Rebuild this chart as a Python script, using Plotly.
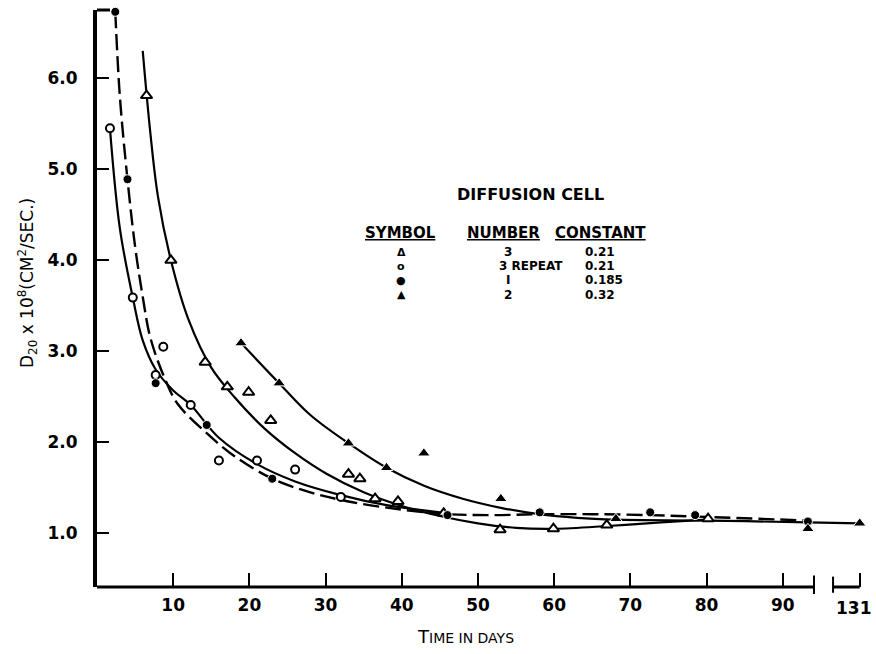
import plotly.graph_objects as go

# ---------------- data ----------------
# Cell 3 (open triangles)
c3_days = [6.5, 9.7, 14.2, 17.1, 19.9, 22.8, 33.0, 34.5, 36.5, 39.5, 45.5, 52.9, 59.9, 66.9, 80.2]
c3_vals = [5.81, 4.00, 2.88, 2.61, 2.55, 2.24, 1.65, 1.60, 1.38, 1.35, 1.22, 1.04, 1.05, 1.09, 1.16]
# Cell 3 repeat (open circles)
c3r_days = [1.7, 4.7, 7.7, 8.7, 12.3, 16.0, 21.0, 26.0, 32.0]
c3r_vals = [5.45, 3.59, 2.74, 3.05, 2.41, 1.80, 1.80, 1.70, 1.40]
# Cell 1 (filled circles)
c1_days = [2.4, 4.0, 7.7, 14.4, 23.0, 46.0, 58.1, 72.6, 78.5, 93.3]
c1_vals = [6.73, 4.89, 2.65, 2.19, 1.60, 1.20, 1.23, 1.23, 1.20, 1.13]
# Cell 2 (filled triangles)
c2_days = [18.9, 23.9, 33.0, 38.0, 42.9, 53.0, 68.1, 93.3, 131]
c2_vals = [3.09, 2.65, 1.99, 1.72, 1.88, 1.38, 1.16, 1.05, 1.11]

# hand-drawn smoothing curves (nodes)
k3_days = [6.0, 7.0, 8.0, 9.7, 12, 15, 18, 22, 26, 30, 35, 40, 45, 50, 55, 60, 67, 74, 80]
k3_vals = [6.30, 5.40, 4.70, 4.00, 3.35, 2.82, 2.50, 2.15, 1.88, 1.66, 1.45, 1.30, 1.19, 1.11, 1.06, 1.05, 1.08, 1.12, 1.15]
k3r_days = [1.7, 3.0, 4.7, 6.0, 7.7, 10, 12.3, 16, 21, 26, 32, 38, 45]
k3r_vals = [5.45, 4.35, 3.59, 3.12, 2.80, 2.57, 2.41, 2.05, 1.76, 1.57, 1.42, 1.31, 1.23]
k1_days = [2.4, 3.0, 4.0, 5.0, 6.0, 7.0, 8.9, 10.6, 14.4, 18, 23, 28, 33, 40, 46, 52, 58, 65, 72.6, 80, 93.3]
k1_vals = [6.73, 5.80, 4.89, 4.15, 3.60, 3.15, 2.70, 2.42, 2.10, 1.85, 1.60, 1.45, 1.35, 1.26, 1.21, 1.20, 1.21, 1.21, 1.20, 1.18, 1.14]
k2_days = [18.9, 23.9, 28, 33, 38, 43, 48, 53, 58, 63, 68.1, 80, 93.3, 131]
k2_vals = [3.09, 2.65, 2.30, 1.99, 1.72, 1.52, 1.38, 1.28, 1.21, 1.17, 1.15, 1.14, 1.12, 1.11]

x_ticks = [10, 20, 30, 40, 50, 60, 70, 80, 90, 131]
y_ticks = [1.0, 2.0, 3.0, 4.0, 5.0, 6.0]

legend_rows = [("\u0394", "3", "0.21"), ("o", "3 REPEAT", "0.21"),
               ("\u25CF", "I", "0.185"), ("\u25B2", "2", "0.32")]

# ---------------- axis break: 131 days is drawn just after the break ----------------
BREAK_END = 94.1      # last plotted day before the break
POS_131 = 100.1       # axis position of the 131-day tick


def xp(d):
    return [v if v <= 95 else POS_131 for v in d]


fig = go.Figure()
BLACK = "black"

# curves
fig.add_trace(go.Scatter(x=xp(k3_days), y=k3_vals, mode="lines", line=dict(color=BLACK, width=2.2, shape="spline"), hoverinfo="skip"))
fig.add_trace(go.Scatter(x=xp(k3r_days), y=k3r_vals, mode="lines", line=dict(color=BLACK, width=2.2, shape="spline"), hoverinfo="skip"))
fig.add_trace(go.Scatter(x=xp(k1_days), y=k1_vals, mode="lines", line=dict(color=BLACK, width=2.4, shape="spline", dash="16px,6px"), hoverinfo="skip"))
fig.add_trace(go.Scatter(x=xp(k2_days), y=k2_vals, mode="lines", line=dict(color=BLACK, width=2.2, shape="spline"), hoverinfo="skip"))

# markers
fig.add_trace(go.Scatter(x=xp(c3_days), y=c3_vals, mode="markers", cliponaxis=False,
                         marker=dict(symbol="triangle-up", size=10, color="white", line=dict(color=BLACK, width=2))))
fig.add_trace(go.Scatter(x=xp(c3r_days), y=c3r_vals, mode="markers", cliponaxis=False,
                         marker=dict(symbol="circle", size=8, color="white", line=dict(color=BLACK, width=2))))
fig.add_trace(go.Scatter(x=xp(c1_days), y=c1_vals, mode="markers", cliponaxis=False,
                         marker=dict(symbol="circle", size=9, color=BLACK, line=dict(color="white", width=1))))
fig.add_trace(go.Scatter(x=xp(c2_days), y=c2_vals, mode="markers", cliponaxis=False,
                         marker=dict(symbol="triangle-up", size=11, color=BLACK, line=dict(color="white", width=1))))

FONT = "DejaVu Sans"
TICKFONT = dict(family=FONT, size=17, color=BLACK, weight="bold")

fig.update_layout(
    width=876, height=654,
    margin=dict(l=97, r=14, t=10, b=67),
    paper_bgcolor="white", plot_bgcolor="white",
    showlegend=False,
    font=dict(family=FONT, color=BLACK),
    xaxis=dict(range=[0, 100.4], showgrid=False, zeroline=False, showline=False,
               tickmode="array", tickvals=xp(x_ticks),
               ticktext=[str(t) if t <= 95 else "" for t in x_ticks],
               ticks="inside", ticklen=14, tickwidth=2, tickcolor=BLACK,
               tickfont=TICKFONT, ticklabelstandoff=6),
    yaxis=dict(range=[0.41, 6.75], showgrid=False, zeroline=False, showline=True,
               linecolor=BLACK, linewidth=4,
               tickmode="array", tickvals=y_ticks, ticktext=["%.1f" % t for t in y_ticks],
               ticks="inside", ticklen=12, tickwidth=2, tickcolor=BLACK,
               tickfont=TICKFONT, ticklabelstandoff=12),
)

shapes = []
# broken x axis line
shapes.append(dict(type="line", xref="x", yref="paper", x0=0, x1=BREAK_END, y0=0, y1=0, line=dict(color=BLACK, width=3)))
shapes.append(dict(type="line", xref="x", yref="paper", x0=BREAK_END, x1=BREAK_END, y0=-0.012, y1=0.02, line=dict(color=BLACK, width=2)))
shapes.append(dict(type="line", xref="x", yref="paper", x0=96.6, x1=96.6, y0=-0.01, y1=0.018, line=dict(color=BLACK, width=2)))
shapes.append(dict(type="line", xref="x", yref="paper", x0=96.6, x1=POS_131, y0=0, y1=0, line=dict(color=BLACK, width=3)))
# top corner of the y axis
shapes.append(dict(type="line", xref="paper", yref="paper", x0=0, x1=0.017, y0=1, y1=1, line=dict(color=BLACK, width=3)))
fig.update_layout(shapes=shapes)


def px(x):
    return (x - 97) / 765


def py(y):
    return (587 - y) / 577


def note(x, y, text, size, xanchor="center", bold=True, **kw):
    return dict(xref="paper", yref="paper", x=px(x), y=py(y), xanchor=xanchor, yanchor="middle",
                showarrow=False, text=text,
                font=dict(size=size, family=FONT, color=BLACK, weight="bold" if bold else "normal"), **kw)


ann = []
# 131 tick label after the axis break
ann.append(note(874, 608, "131", 17, xanchor="right"))
# axis titles
ann.append(note(465, 636, "<span style='font-size:18px'>T</span>IME IN DAYS", 14, bold=False))
ann.append(note(27, 283, "D<sub>20</sub> x 10<sup>8</sup>(CM<sup>2</sup>/SEC.)", 17, bold=False, textangle=-90))

# legend table
ann.append(note(530, 195, "DIFFUSION CELL", 16))
for lab, cx in (("SYMBOL", 400), ("NUMBER", 503), ("CONSTANT", 600)):
    ann.append(note(cx, 233, "<u>%s</u>" % lab, 15))
for i, (sym, num, const) in enumerate(legend_rows):
    yy = 252 + i * 14.2
    ann.append(note(401, yy, sym, 11))
    if num == "3 REPEAT":
        ann.append(note(497, yy, num, 12, xanchor="left"))
    else:
        ann.append(note(508, yy, num, 12))
    ann.append(note(583, yy, const, 12, xanchor="left"))
fig.update_layout(annotations=ann)

fig.write_html("out.html", config={"displayModeBar": False},
               post_script="document.body.style.margin='0px';document.body.style.overflow='hidden';")
